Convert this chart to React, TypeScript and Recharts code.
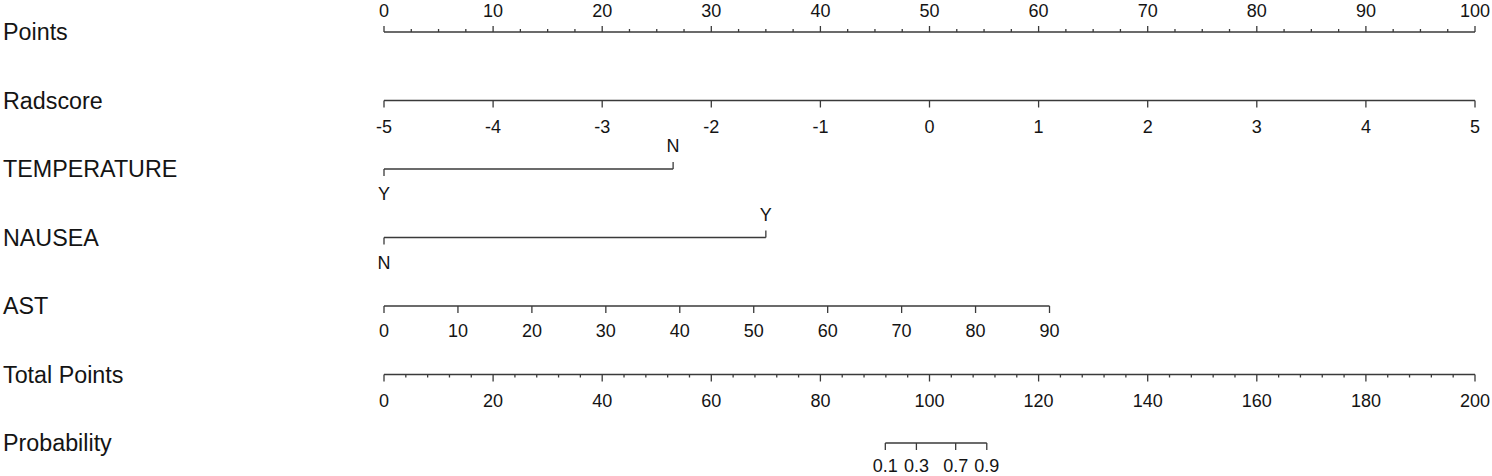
import React from "react";
import { ScatterChart, Scatter, XAxis, YAxis, ReferenceLine } from "recharts";

// rows of the nomogram, top to bottom
const rowNames = ["Points", "Radscore", "TEMPERATURE", "NAUSEA", "AST", "Total Points", "Probability"];

// Points scale (0-100)
const pointsMajor = [0, 10, 20, 30, 40, 50, 60, 70, 80, 90, 100];
const pointsMinor = [
  2.5, 5, 7.5, 12.5, 15, 17.5, 22.5, 25, 27.5, 32.5, 35, 37.5, 42.5, 45, 47.5,
  52.5, 55, 57.5, 62.5, 65, 67.5, 72.5, 75, 77.5, 82.5, 85, 87.5, 92.5, 95, 97.5,
];

// Radscore -5..5 spans the full 0-100 points
const radscoreTicks = [-5, -4, -3, -2, -1, 0, 1, 2, 3, 4, 5];
const radscorePoints = [0, 10, 20, 30, 40, 50, 60, 70, 80, 90, 100];

// categorical predictors
const temperatureLevels = ["Y", "N"];
const temperaturePoints = [0, 26.5];
const nauseaLevels = ["N", "Y"];
const nauseaPoints = [0, 35];

// AST 0..90
const astTicks = [0, 10, 20, 30, 40, 50, 60, 70, 80, 90];
const astMaxPoints = 61;

// Total points 0..200
const totalMajor = [0, 20, 40, 60, 80, 100, 120, 140, 160, 180, 200];
const totalMinor = [
  4, 8, 12, 16, 24, 28, 32, 36, 44, 48, 52, 56, 64, 68, 72, 76, 84, 88, 92, 96,
  104, 108, 112, 116, 124, 128, 132, 136, 144, 148, 152, 156, 164, 168, 172, 176,
  184, 188, 192, 196,
];

// probability read against total points
const probTicks = ["0.1", "0.3", "0.7", "0.9"];
const probTotalPoints = [91.9, 97.6, 104.8, 110.5];

const INK = "#141414";
const LINE = "#3a3a3a";
const FONT = "'Liberation Sans', Arial, Helvetica, sans-serif";

interface Tick {
  x: number;
  y: number;
  text?: string;
  up: boolean;
  len: number;
  dy: number;
}

const mk = (row: number, xs: number[], texts: (string | undefined)[], up: boolean, len: number, dy: number): Tick[] =>
  xs.map((x, i) => ({ x, y: row, text: texts[i], up, len, dy }));

const ticks: Tick[] = [
  ...mk(0, pointsMajor, pointsMajor.map(String), true, 6, 21),
  ...mk(0, pointsMinor, [], true, 3, 0),
  ...mk(1, radscorePoints, radscoreTicks.map(String), false, 7, 26),
  ...mk(2, [temperaturePoints[0]], [temperatureLevels[0]], false, 7, 25),
  ...mk(2, [temperaturePoints[1]], [temperatureLevels[1]], true, 7, 23),
  ...mk(3, [nauseaPoints[0]], [nauseaLevels[0]], false, 7, 25),
  ...mk(3, [nauseaPoints[1]], [nauseaLevels[1]], true, 7, 23),
  ...mk(4, astTicks.map((a) => (a / 90) * astMaxPoints), astTicks.map(String), false, 7, 25),
  ...mk(5, totalMajor.map((t) => t / 2), totalMajor.map(String), false, 7, 26),
  ...mk(5, totalMinor.map((t) => t / 2), [], false, 3, 0),
  ...mk(6, probTotalPoints.map((t) => t / 2), probTicks, false, 7, 23),
];

// horizontal extent of each row in points
const rowLines: [number, number][] = [
  [0, 100],
  [0, 100],
  [temperaturePoints[0], temperaturePoints[1]],
  [nauseaPoints[0], nauseaPoints[1]],
  [0, astMaxPoints],
  [0, 100],
  [probTotalPoints[0] / 2, probTotalPoints[probTotalPoints.length - 1] / 2],
];

function TickMark(props: any) {
  const { cx, cy, payload } = props;
  const dir = payload.up ? -1 : 1;
  return (
    <g>
      <line x1={cx} y1={cy} x2={cx} y2={cy + dir * payload.len} stroke={LINE} strokeWidth={1.3} />
      {payload.text !== undefined && (
        <text
          x={cx}
          y={cy + dir * payload.dy}
          textAnchor="middle"
          dominantBaseline="central"
          fontSize={18}
          fontFamily={FONT}
          fill={INK}
        >
          {payload.text}
        </text>
      )}
    </g>
  );
}

function RowLabel(props: any) {
  const { y, payload } = props;
  return (
    <text x={3} y={y} dominantBaseline="central" textAnchor="start" fontSize={23.3} fontFamily={FONT} fill={INK}>
      {rowNames[payload.value]}
    </text>
  );
}

export default function App() {
  return (
    <div style={{ position: "absolute", left: 0, top: 0, width: 1492, height: 476, background: "#fff" }}>
      <ScatterChart width={1492} height={476} margin={{ top: 32, right: 17, bottom: 33, left: 0 }}>
        <XAxis type="number" dataKey="x" domain={[0, 100]} hide />
        <YAxis
          type="number"
          dataKey="y"
          domain={[0, 6]}
          reversed
          ticks={[0, 1, 2, 3, 4, 5, 6]}
          width={384}
          axisLine={false}
          tickLine={false}
          tick={<RowLabel />}
        />
        {rowLines.map(([a, b], i) => (
          <ReferenceLine
            key={i}
            segment={[{ x: a, y: i }, { x: b, y: i }]}
            stroke={LINE}
            strokeWidth={1.3}
            ifOverflow="visible"
          />
        ))}
        <Scatter data={ticks} shape={<TickMark />} isAnimationActive={false} />
      </ScatterChart>
    </div>
  );
}
